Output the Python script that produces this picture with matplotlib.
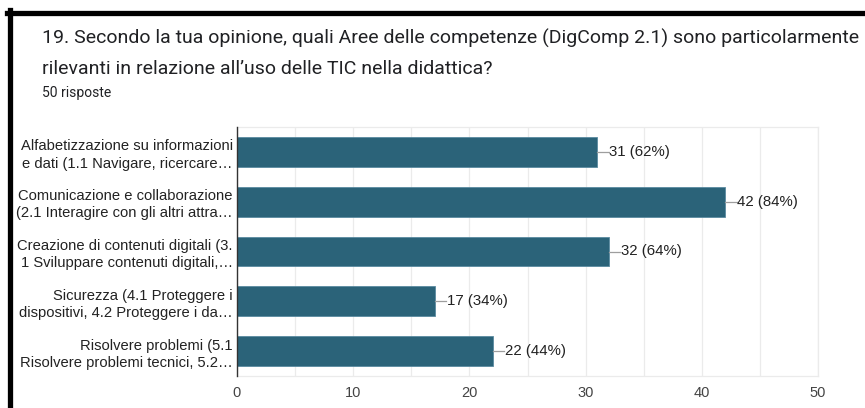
import numpy as np
import matplotlib
matplotlib.use('Agg')
import matplotlib.pyplot as plt
from matplotlib.lines import Line2D

# data
labels = ['Alfabetizzazione su informazioni\ne dati (1.1 Navigare, ricercare…',
          'Comunicazione e collaborazione\n(2.1 Interagire con gli altri attra…',
          'Creazione di contenuti digitali (3.\n1 Sviluppare contenuti digitali,…',
          'Sicurezza (4.1 Proteggere i\ndispositivi, 4.2 Proteggere i da…',
          'Risolvere problemi (5.1\nRisolvere problemi tecnici, 5.2…']
counts = [31, 42, 32, 17, 22]
total = 50
xticks = [0, 10, 20, 30, 40, 50]

bar_color = '#2b6379'

fig = plt.figure(figsize=(8.65, 4.08), dpi=100)
ax = fig.add_axes([237/865, 1-376/408, (818-237)/865, (376-127)/408])

y = np.arange(len(labels))
ax.barh(y, counts, height=0.6, color=bar_color, edgecolor='#5a8aa0', linewidth=0.6, zorder=3)
ax.set_ylim(len(labels)-0.5, -0.5)
ax.set_xlim(0, 50)

# value labels with a short leader line
for i, c in enumerate(counts):
    ax.plot([c, c+1.0], [i, i], color='#9e9e9e', lw=0.9, zorder=3)
    ax.text(c+1.05, i, '%d (%d%%)' % (c, round(c*100/total)), va='center', ha='left',
            fontsize=10.8, family='Liberation Sans', color='#222222')

ax.set_xticks(xticks)
ax.set_xticks(np.arange(0, 51, 5), minor=True)
ax.grid(axis='x', which='both', color='#ebebeb', lw=0.9, zorder=0)
ax.tick_params(axis='x', which='both', length=0, pad=7, labelsize=10.5, labelcolor='#444444')
ax.set_yticks(y)
ax.set_yticklabels(labels, fontsize=10.6, family='Liberation Sans', color='#222222', linespacing=1.3)
ax.tick_params(axis='y', length=0, pad=3)
for lab in ax.get_xticklabels():
    lab.set_family('Liberation Sans')

for s in ['top', 'right', 'bottom']:
    ax.spines[s].set_color('#ebebeb')
    ax.spines[s].set_linewidth(0.9)
ax.spines['left'].set_color('#333333')
ax.spines['left'].set_linewidth(1.0)
ax.spines['left'].set_zorder(4)

# title block
fig.text(42/865, 1-44/408, '19. Secondo la tua opinione, quali Aree delle competenze (DigComp 2.1) sono particolarmente',
         fontsize=14.0, family='Roboto', color='#202124', va='baseline')
fig.text(42/865, 1-74/408, 'rilevanti in relazione all\u2019uso delle TIC nella didattica?',
         fontsize=14.0, family='Roboto', color='#202124', va='baseline')
fig.text(42/865, 1-97/408, '50 risposte', fontsize=10, family='Roboto', color='#202124', va='baseline')

# black frame of the screenshot
fig.add_artist(Line2D([7/865, 1], [1-12.5/408, 1-12.5/408], color='black', lw=3.8, transform=fig.transFigure))
fig.add_artist(Line2D([9.5/865, 9.5/865], [0, 1-10/408], color='black', lw=3.8, transform=fig.transFigure))

plt.savefig('out.png', dpi=100)
